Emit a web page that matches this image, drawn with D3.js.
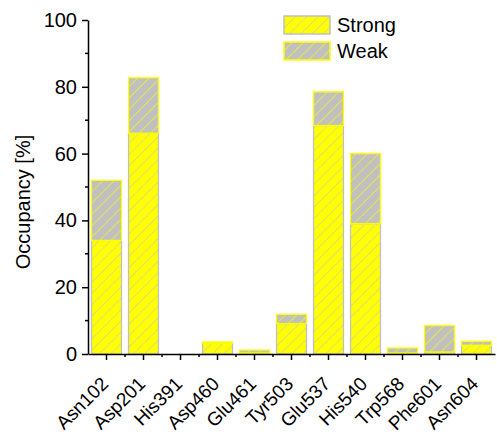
<!DOCTYPE html>
<html><head><meta charset="utf-8">
<script src="https://cdn.jsdelivr.net/npm/d3@7"></script>
<style>body{margin:0;background:#fff}svg{display:block;font-family:"Liberation Sans",Arial,sans-serif}</style>
</head><body><svg id="c" width="497" height="435"></svg>
<script>
const categories = ["Asn102","Asp201","His391","Asp460","Glu461","Tyr503","Glu537","His540","Trp568","Phe601","Asn604"];
const strong = [34.0, 66.1, 0, 3.2, 0.3, 9.1, 68.4, 39.0, 0.3, 0.6, 2.6];
const weak   = [18.0, 16.6, 0, 0.4, 0.9, 2.8, 10.1, 21.0, 1.5, 7.9, 1.2];
const yTicks = [0, 20, 40, 60, 80, 100];
const yMinorTicks = [10, 30, 50, 70, 90];
const seriesNames = ["Strong", "Weak"];

const svg = d3.select("#c");
const m = {l: 88, t: 20, r: 2, b: 81};
const W = 497, H = 435;
const FONT = "Liberation Sans, Arial, sans-serif";
const x = d3.scaleBand().domain(categories).range([m.l, W - m.r]).paddingInner(0.19).paddingOuter(0.095);
const y = d3.scaleLinear().domain([0, 100]).range([H - m.b, m.t]);

const defs = svg.append("defs");
function hatch(id, bg, line) {
  const p = defs.append("pattern").attr("id", id).attr("patternUnits", "userSpaceOnUse")
    .attr("width", 8).attr("height", 8).attr("patternTransform", "rotate(45)");
  p.append("rect").attr("width", 8).attr("height", 8).attr("fill", bg);
  p.append("line").attr("x1", 0).attr("y1", 0).attr("x2", 0).attr("y2", 8)
    .attr("stroke", line).attr("stroke-width", 1.2);
}
hatch("hs", "#ffff00", "#c8c8b4");
hatch("hw", "#c0c0c0", "#ffff00");
const styles = [
  {fill: "url(#hs)", stroke: "#c0c0c0"},
  {fill: "url(#hw)", stroke: "#ffff00"}
];

const data = categories.map((c, i) => ({c, s: strong[i], w: weak[i]}));
const g = svg.append("g");
data.forEach(d => {
  if (d.s > 0) g.append("rect").attr("x", x(d.c)).attr("width", x.bandwidth())
    .attr("y", y(d.s)).attr("height", y(0) - y(d.s))
    .attr("fill", styles[0].fill).attr("stroke", styles[0].stroke).attr("stroke-width", 1.3);
  if (d.w > 0) g.append("rect").attr("x", x(d.c)).attr("width", x.bandwidth())
    .attr("y", y(d.s + d.w)).attr("height", y(d.s) - y(d.s + d.w))
    .attr("fill", styles[1].fill).attr("stroke", styles[1].stroke).attr("stroke-width", 1.3);
});

// y axis
const ya = svg.append("g").attr("transform", `translate(${m.l},0)`)
  .call(d3.axisLeft(y).tickValues(yTicks).tickSize(6).tickSizeOuter(0).tickPadding(5));
ya.select(".domain").attr("stroke-width", 1.5);
ya.selectAll(".tick line").attr("stroke-width", 1.5);
ya.selectAll("text").attr("font-size", 20).attr("font-family", FONT).attr("fill", "#000");
svg.append("g").attr("transform", `translate(${m.l},0)`)
  .selectAll("line").data(yMinorTicks).join("line")
  .attr("x1", -3).attr("x2", 0).attr("y1", d => y(d)).attr("y2", d => y(d))
  .attr("stroke", "#000").attr("stroke-width", 1.5);

// x axis
const xa = svg.append("g").attr("transform", `translate(0,${y(0)})`)
  .call(d3.axisBottom(x).tickSize(6).tickSizeOuter(0));
xa.select(".domain").attr("stroke-width", 1.5);
xa.selectAll(".tick line").attr("stroke-width", 1.5);
xa.selectAll("text").attr("font-size", 19).attr("font-family", FONT).attr("fill", "#000")
  .attr("text-anchor", "end").attr("dy", null).attr("x", 0).attr("y", 0)
  .attr("transform", "translate(3,31) rotate(-45)");
const bounds = categories.slice(1).map(c => x(c) - x.step() * x.paddingInner() / 2);
svg.append("g").selectAll("line").data(bounds).join("line")
  .attr("x1", d => d).attr("x2", d => d).attr("y1", y(0)).attr("y2", y(0) + 3)
  .attr("stroke", "#000").attr("stroke-width", 1.5);

// y label
svg.append("text").attr("transform", `translate(30,202) rotate(-90)`)
  .attr("text-anchor", "middle").attr("font-size", 20).attr("font-family", FONT).attr("fill", "#000").text("Occupancy [%]");

// legend
const lg = svg.append("g").attr("transform", "translate(284,16)");
seriesNames.forEach((n, i) => {
  lg.append("rect").attr("x", 0).attr("y", i * 26).attr("width", 46).attr("height", 18)
    .attr("fill", styles[i].fill).attr("stroke", styles[i].stroke).attr("stroke-width", 1.5);
  lg.append("text").attr("x", 53).attr("y", i * 26 + 16).attr("font-size", 20).attr("font-family", FONT).attr("fill", "#000").text(n);
});
</script></body></html>
